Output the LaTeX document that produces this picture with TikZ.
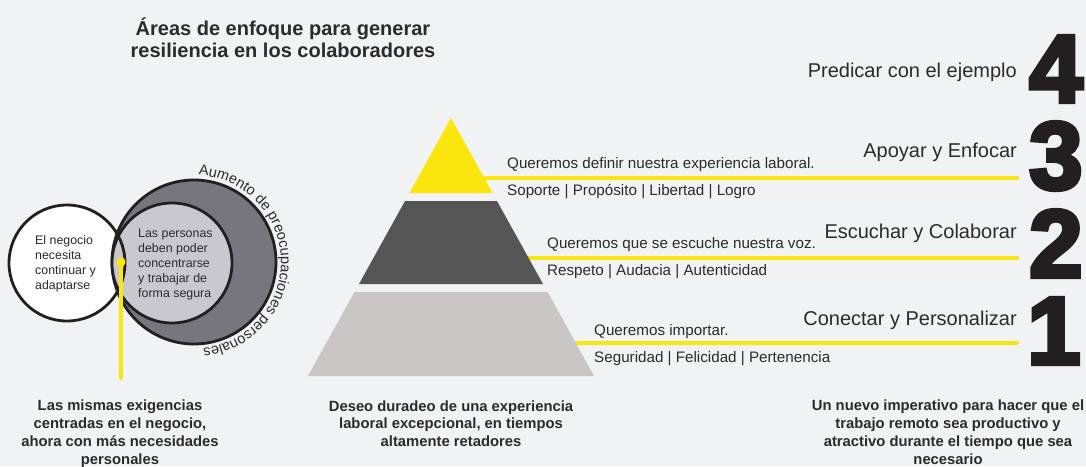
\documentclass[tikz,border=0pt]{standalone}
\usepackage{fontspec}
\setmainfont{Liberation Sans}
\newfontfamily\heavyfont{Liberation Sans}[BoldFeatures={FakeBold=4.5}]
\usetikzlibrary{decorations.text}
\definecolor{bg}{HTML}{F1F2F4}
\definecolor{ink}{HTML}{231F20}
\definecolor{txt}{HTML}{2B2B2B}
\definecolor{ylw}{HTML}{FAE60C}
\definecolor{pyrdark}{HTML}{555555}
\definecolor{pyrlight}{HTML}{C9C6C5}
\definecolor{ringdark}{HTML}{77767F}
\definecolor{ringlight}{HTML}{C8C8CE}
\begin{document}
\begin{tikzpicture}[x=1pt,y=1pt,
  lbl/.style={inner sep=0pt, anchor=base west, text=txt, font=\fontsize{15.2}{18}\selectfont},
  head/.style={inner sep=0pt, anchor=base east, text=txt, font=\fontsize{20}{24}\selectfont},
  num/.style={inner sep=0pt, anchor=base west, text=ink, font=\heavyfont\bfseries\fontsize{96}{96}\selectfont},
  capt/.style={align=center, text=txt, font=\bfseries\fontsize{14.8}{17.7}\selectfont, inner sep=0pt, anchor=base},
  ctext/.style={align=left, text=txt, font=\fontsize{12.4}{15}\selectfont, inner sep=0pt, anchor=base west},
  yline/.style={line width=4.5pt, draw=ylw, line cap=round},
  ring/.style={line width=2.8pt, draw=ink}
]
% background and bounding box
\fill[bg] (0,0) rectangle (1086,-466);
\useasboundingbox (0,0) rectangle (1086,-466);

% title (anchor = baseline of last line)
\node[capt, font=\bfseries\fontsize{20}{22}\selectfont] (title) at (283,-57)
  {Áreas de enfoque para generar\\resiliencia en los colaboradores};

% ---- circles ----
\coordinate (cbiz) at (67,-263);
\coordinate (couter) at (194,-262);
\coordinate (cinner) at (172,-263);
\fill[white] (cbiz) circle (58);
\fill[ringdark] (couter) circle (82);
\draw[ring] (couter) circle (82);
\fill[ringlight] (cinner) circle (60);
\draw[ring] (cinner) circle (60);
\draw[ring] (cbiz) circle (58);

\path[decorate, decoration={text along path, text color=txt,
   text={|\fontsize{14.5}{17}\selectfont|Aumento de preocupaciones personales},
   text align=fit to path}]
  (198.55,-175.12) arc[start angle=87, end angle=-84, radius=87];

\node[ctext] (biztext) at (35,-289) {El negocio\\necesita\\continuar y\\adaptarse};
\node[ctext] (pertext) at (138,-297) {Las personas\\deben poder\\concentrarse\\y trabajar de\\forma segura};

\coordinate (dot) at (121,-262);
\coordinate (dotend) at (121,-378);
\draw[ylw, line width=4pt, line cap=round] (dot) -- (dotend);
\fill[ylw] (dot) circle (4.6);

% ---- yellow level lines ----
\coordinate (l3a) at (451,-178); \coordinate (l3b) at (1017,-178);
\coordinate (l2a) at (451,-258); \coordinate (l2b) at (1017,-258);
\coordinate (l1a) at (451,-343); \coordinate (l1b) at (1017,-343);
\draw[yline] (l3a) -- (l3b);
\draw[yline] (l2a) -- (l2b);
\draw[yline] (l1a) -- (l1b);

% ---- pyramid ----
\fill[ylw] (451,-118) -- (492.6,-193) -- (409.4,-193) -- cycle;
\fill[pyrdark] (405,-201) -- (497,-201) -- (543,-284) -- (359,-284) -- cycle;
\fill[pyrlight] (354.4,-292) -- (547.6,-292) -- (594,-376) -- (308,-376) -- cycle;

% ---- level texts ----
\node[lbl] (q3) at (507,-168) {Queremos definir nuestra experiencia laboral.};
\node[lbl] (v3) at (507,-195) {Soporte | Propósito | Libertad | Logro};
\node[lbl] (q2) at (547,-248) {Queremos que se escuche nuestra voz.};
\node[lbl] (v2) at (547,-275) {Respeto | Audacia | Autenticidad};
\node[lbl] (q1) at (594,-335) {Queremos importar.};
\node[lbl] (v1) at (594,-362) {Seguridad | Felicidad | Pertenencia};

\node[head] (h4) at (1017,-77) {Predicar con el ejemplo};
\node[head] (h3) at (1017,-157) {Apoyar y Enfocar};
\node[head] (h2) at (1017,-238) {Escuchar y Colaborar};
\node[head] (h1) at (1017,-325) {Conectar y Personalizar};

\node[num] (n4) at (1029,-102) {4};
\node[num] (n3) at (1029,-189) {3};
\node[num] (n2) at (1029,-277) {2};
\node[num] (n1) at (1027,-364) {1};

% ---- captions (anchor = baseline of last line) ----
\node[capt] (cap1) at (120,-464) {Las mismas exigencias\\centradas en el negocio,\\ahora con más necesidades\\personales};
\node[capt] (cap2) at (451,-446.4) {Deseo duradeo de una experiencia\\laboral excepcional, en tiempos\\altamente retadores};
\node[capt] (cap3) at (948,-464) {Un nuevo imperativo para hacer que el\\trabajo remoto sea productivo y\\atractivo durante el tiempo que sea\\necesario};
\end{tikzpicture}
\end{document}
